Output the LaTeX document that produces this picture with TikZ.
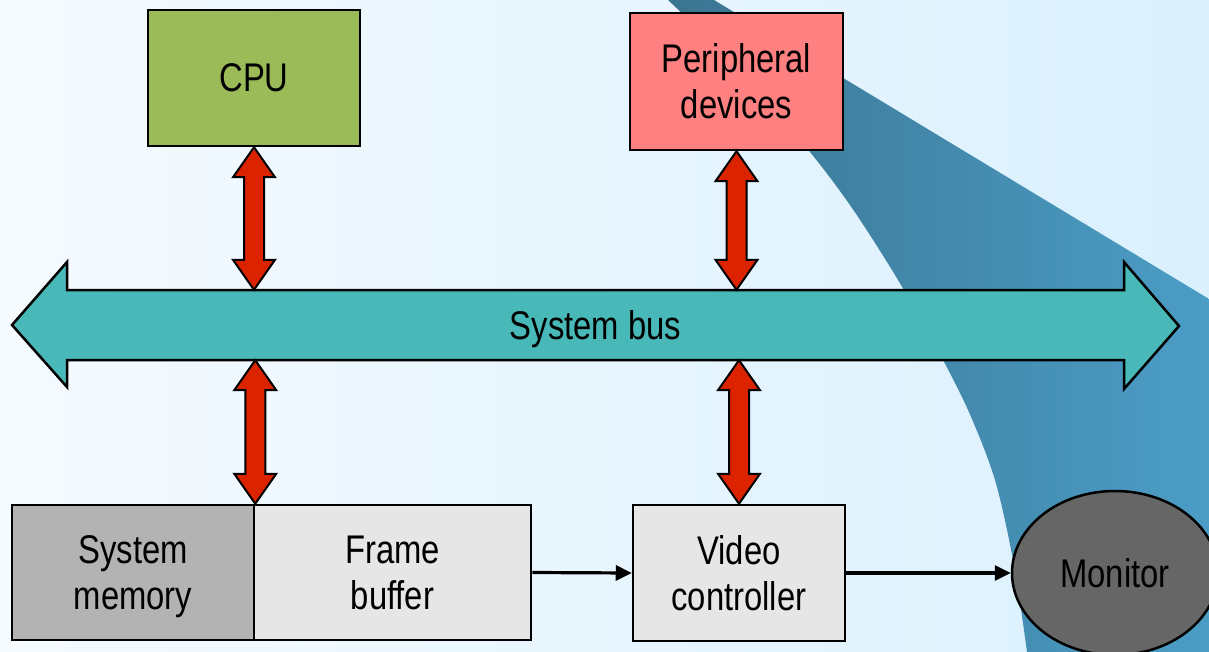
\documentclass[tikz,border=0pt]{standalone}
\usepackage{fontspec}
\setmainfont{Liberation Sans}[FakeStretch=0.82]
\usetikzlibrary{arrows.meta,calc,shapes.geometric}
\definecolor{bgl}{HTML}{F5FBFF}
\definecolor{bgr}{HTML}{DAF0FD}
\definecolor{swl}{HTML}{3B7491}
\definecolor{swr}{HTML}{4B9DC6}
\definecolor{cpug}{HTML}{9BBB59}
\definecolor{perr}{HTML}{FF8080}
\definecolor{busc}{HTML}{48B8B8}
\definecolor{redc}{HTML}{DB2300}
\definecolor{memg}{HTML}{B3B3B3}
\definecolor{boxg}{HTML}{E6E6E6}
\definecolor{mong}{HTML}{666666}
\newcommand{\fatarrow}[2]{%
  \draw[fatarrow] let \p1=(#1), \p2=(#2) in
    (\x1,\y1) -- (\x1+21pt,\y1-30pt) -- (\x1+10pt,\y1-30pt) -- (\x1+10pt,\y2+30pt)
    -- (\x1+21pt,\y2+30pt) -- (\x1,\y2) -- (\x1-21pt,\y2+30pt) -- (\x1-10pt,\y2+30pt)
    -- (\x1-10pt,\y1-30pt) -- (\x1-21pt,\y1-30pt) -- cycle;}
\begin{document}
\begin{tikzpicture}[x=1pt,y=-1pt,
  lbl/.style={font=\fontsize{40}{46}\selectfont, align=center, text=black, text depth=0pt},
  blk/.style={lbl, draw=black, line width=2.5pt, inner sep=0pt},
  fatarrow/.style={fill=redc, draw=black, line width=2pt, line join=miter},
  conn/.style={line width=3.2pt, -{Triangle[length=16pt,width=15pt]}}]
\useasboundingbox (0,0) rectangle (1209,652);
\shade[left color=bgl, right color=bgr] (0,0) rectangle (1209,652);
\shade[left color=swl, right color=swr] (714,0) -- (1209,299) -- (1209,652)
  -- plot[smooth] coordinates {(1027,652) (1014,565) (995,480) (968,410) (935,345) (895,275) (852,208) (810,152) (740,70) (668,0)} -- cycle;
% boxes
\node[blk, fill=cpug, minimum width=212pt, minimum height=136pt] (cpu) at (254,78) {CPU};
\node[blk, fill=perr, minimum width=213pt, minimum height=137pt] (per) at (736.5,81.5) {Peripheral\\devices};
\node[blk, fill=memg, minimum width=242pt, minimum height=135pt] (mem) at (133,572.5) {System\\memory};
\node[blk, fill=boxg, minimum width=277pt, minimum height=135pt] (fb) at (392.5,572.5) {Frame\\buffer};
\node[blk, fill=boxg, minimum width=212pt, minimum height=136pt] (vc) at (739,573) {Video\\controller};
\node[lbl, draw=black, line width=2.5pt, fill=mong, ellipse, minimum width=206pt, minimum height=164pt, inner sep=0pt] (mon) at (1115,573) {Monitor};
% bus
\draw[fill=busc, draw=black, line width=2.5pt, line join=miter]
  (12,325) -- (67,262) -- (67,290) -- (1124,290) -- (1124,262) -- (1179,326)
  -- (1124,389) -- (1124,360) -- (67,360) -- (67,387) -- cycle;
\node[lbl, minimum width=1057pt, minimum height=70pt, inner sep=0pt] (bus) at (595.5,325) {System bus};
% red arrows
\fatarrow{cpu.south}{cpu.south |- bus.north}
\fatarrow{per.south}{per.south |- bus.north}
\fatarrow{mem.north east |- bus.south}{mem.north east}
\fatarrow{vc.north |- bus.south}{vc.north}
% connectors
\draw[conn] (fb.east) -- (vc.west);
\draw[conn] (vc.east) -- (mon.west);
\end{tikzpicture}
\end{document}
